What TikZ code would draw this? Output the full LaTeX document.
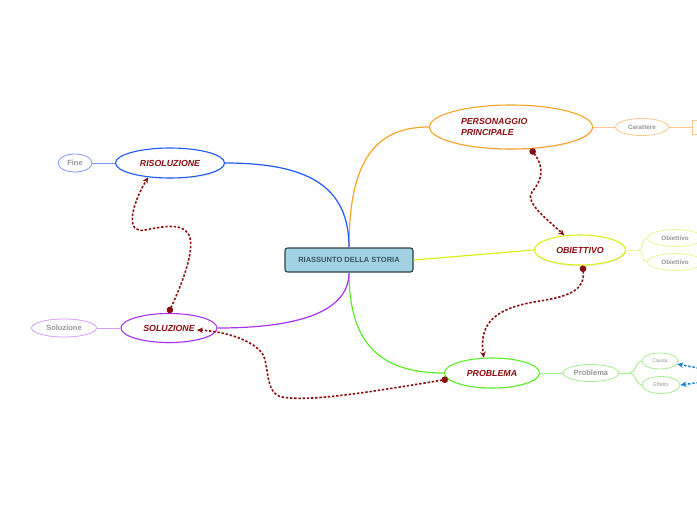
\documentclass[tikz,border=0pt]{standalone}
\usepackage{fontspec}
\setmainfont{Liberation Sans}
\usetikzlibrary{arrows.meta, shapes.geometric, shadows}
\definecolor{MapOrange}{RGB}{247,164,40}
\definecolor{MapOrangeLight}{RGB}{250,200,140}
\definecolor{MapLime}{RGB}{218,240,20}
\definecolor{MapLimeLight}{RGB}{236,245,150}
\definecolor{MapGreen}{RGB}{90,240,40}
\definecolor{MapGreenLight}{RGB}{165,240,145}
\definecolor{MapBlue}{RGB}{30,90,250}
\definecolor{MapBlueLight}{RGB}{125,155,250}
\definecolor{MapPurple}{RGB}{170,50,240}
\definecolor{MapPurpleLight}{RGB}{215,160,245}
\definecolor{MapRed}{RGB}{140,15,15}
\definecolor{MapGrey}{RGB}{150,150,150}
\definecolor{MapCyan}{RGB}{160,210,225}
\definecolor{MapSlate}{RGB}{45,65,75}
\definecolor{MapSlateText}{RGB}{60,85,100}
\definecolor{MapSky}{RGB}{30,130,215}

\begin{document}
\begin{tikzpicture}[
    x=1pt, y=-1pt,
    core/.style={
        draw=MapSlate,
        fill=MapCyan,
        line width=1.1pt,
        rounded corners=2.5pt,
        minimum width=128pt,
        minimum height=24pt,
        text=MapSlateText,
        font=\fontsize{7.5}{9}\selectfont\bfseries
    },
    topic/.style={
        draw,
        ellipse,
        fill=white,
        line width=1.1pt,
        inner sep=0pt,
        text=MapRed,
        font=\fontsize{8.8}{10.5}\selectfont\bfseries\itshape,
        drop shadow={shadow xshift=0.5pt, shadow yshift=-1.5pt, opacity=0.12}
    },
    subtopic/.style={
        draw,
        ellipse,
        fill=white,
        line width=0.8pt,
        inner sep=0pt,
        text=MapGrey,
        font=\fontsize{7.5}{9}\selectfont\bfseries
    },
    branch/.style={line width=1.2pt},
    twig/.style={line width=0.9pt},
    rel/.style={
        MapRed,
        line width=1.6pt,
        dash pattern=on 2.4pt off 1.8pt,
        {Circle[length=6.5pt]}-{Stealth[length=6pt,width=5.5pt]}
    },
    link/.style={
        MapSky,
        line width=1.6pt,
        dash pattern=on 2.4pt off 1.8pt,
        -{Stealth[length=6pt,width=5.5pt]}
    }
]
\useasboundingbox (0,0) rectangle (697,520);

% Central topic
\node[core] (storia) at (349,260) {RIASSUNTO DELLA STORIA};

% Main topics
\node[topic, draw=MapOrange, minimum width=163pt, minimum height=44pt, text width=100pt, align=left] (pers) at (511,127) {PERSONAGGIO\\PRINCIPALE};
\node[topic, draw=MapLime,   minimum width=91pt,  minimum height=30pt] (obj)  at (580,250) {OBIETTIVO};
\node[topic, draw=MapGreen,  minimum width=95pt,  minimum height=30pt] (prob) at (492,373) {PROBLEMA};
\node[topic, draw=MapBlue,   minimum width=109pt, minimum height=30pt] (riso) at (170,163) {RISOLUZIONE};
\node[topic, draw=MapPurple, minimum width=96pt,  minimum height=29pt] (sol)  at (169,328) {SOLUZIONE};

% Subtopics
\node[subtopic, draw=MapOrangeLight, minimum width=53pt, minimum height=17pt, font=\fontsize{6.3}{8}\selectfont\bfseries] (car) at (642,127) {Carattere};
\node[draw=MapOrangeLight, line width=0.9pt, fill=white, anchor=west, minimum width=30pt, minimum height=14pt] (carbox) at (692,127) {};
\node[subtopic, draw=MapLimeLight, minimum width=55pt, minimum height=17pt, font=\fontsize{6.3}{8}\selectfont\bfseries] (objA) at (675,238) {Obiettivo};
\node[subtopic, draw=MapLimeLight, minimum width=55pt, minimum height=17pt, font=\fontsize{6.3}{8}\selectfont\bfseries] (objB) at (675,262) {Obiettivo};
\node[subtopic, draw=MapGreenLight, minimum width=56pt, minimum height=17pt] (pb) at (591,373) {Problema};
\node[subtopic, draw=MapGreenLight, minimum width=36pt, minimum height=16pt, font=\fontsize{5.3}{7}\selectfont] (causa) at (660,361) {Causa};
\node[subtopic, draw=MapGreenLight, minimum width=38pt, minimum height=17pt, font=\fontsize{5.3}{7}\selectfont] (eff) at (661,385) {Effetto};
\node[subtopic, draw=MapBlueLight, minimum width=34pt, minimum height=18pt] (fine) at (75,163) {Fine};
\node[subtopic, draw=MapPurpleLight, minimum width=65pt, minimum height=18pt] (solsub) at (64,328) {Soluzione};

% Forks and loose ends
\coordinate (objfork) at (638,250);
\coordinate (pbfork) at (630,373);
\coordinate (offA) at (703,369);
\coordinate (offB) at (703,382);

% Branches from the central topic
\draw[branch, MapOrange] (storia.north) .. controls +(0,-85) and +(-55,0) .. (pers.west);
\draw[branch, MapBlue]   (storia.north) .. controls +(0,-60) and +(85,0) .. (riso.east);
\draw[branch, MapLime]   (storia.east) -- (obj.west);
\draw[branch, MapGreen]  (storia.south) .. controls +(0,75) and +(-60,0) .. (prob.west);
\draw[branch, MapPurple] (storia.south) .. controls +(0,45) and +(65,0) .. (sol.east);

% Twigs to the subtopics
\draw[twig, MapOrangeLight] (pers.east) -- (car.west);
\draw[twig, MapOrangeLight] (car.east) -- (carbox.west);
\draw[twig, MapLimeLight] (obj.east) -- (objfork);
\draw[twig, MapLimeLight] (objfork) .. controls +(6,0) and +(-6,0) .. (objA.west);
\draw[twig, MapLimeLight] (objfork) .. controls +(6,0) and +(-6,0) .. (objB.west);
\draw[twig, MapGreenLight] (prob.east) -- (pb.west);
\draw[twig, MapGreenLight] (pb.east) -- (pbfork);
\draw[twig, MapGreenLight] (pbfork) .. controls +(6,0) and +(-6,0) .. (causa.west);
\draw[twig, MapGreenLight] (pbfork) .. controls +(6,0) and +(-6,0) .. (eff.west);
\draw[twig, MapBlueLight] (riso.west) -- (fine.east);
\draw[twig, MapPurpleLight] (sol.west) -- (solsub.east);

% Relations
\draw[rel] (pers.-48) .. controls (545,168) and (542,180) .. (532,192)
    .. controls (524,202) and (548,220) .. (obj.137);
\draw[rel] (obj.-80) .. controls (585,290) and (570,296) .. (540,301)
    .. controls (500,307) and (478,320) .. (prob.118);
\draw[rel] (sol.92) .. controls (180,288) and (194,255) .. (190,238)
    .. controls (186,222) and (165,226) .. (145,230)
    .. controls (126,234) and (130,208) .. (riso.-147);
\draw[rel] (prob.-172) .. controls (370,392) and (310,402) .. (282,397)
    .. controls (264,393) and (270,365) .. (262,353)
    .. controls (250,338) and (220,331) .. ([xshift=28pt,yshift=-2pt]sol.center);
\draw[link] (offA) -- (causa.-10);
\draw[link] (offB) -- (eff.east);

\end{tikzpicture}
\end{document}
